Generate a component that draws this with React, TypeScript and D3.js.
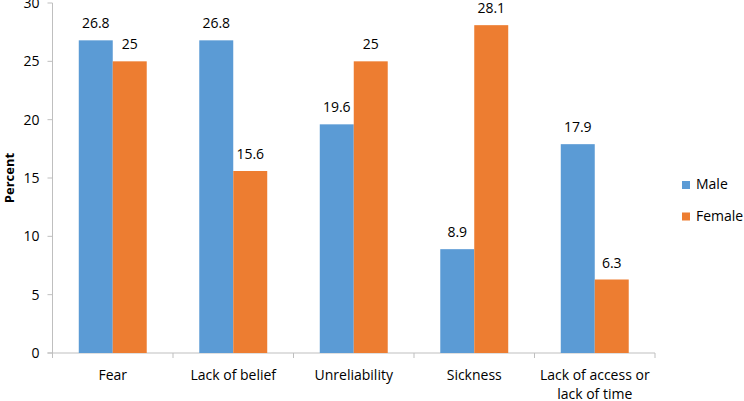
import * as d3 from 'd3';
import React from 'react';

const categories = ['Fear', 'Lack of belief', 'Unreliability', 'Sickness', 'Lack of access or lack of time'];
const categoryLines = [['Fear'], ['Lack of belief'], ['Unreliability'], ['Sickness'], ['Lack of access or', 'lack of time']];
const seriesNames = ['Male', 'Female'];
const maleValues = [26.8, 26.8, 19.6, 8.9, 17.9];
const femaleValues = [25, 15.6, 25, 28.1, 6.3];
const yTicks = [0, 5, 10, 15, 20, 25, 30];
const colors = ['#5B9BD5', '#ED7D31'];

const W = 744;
const H = 401;
const FONT = '"Open Sans", sans-serif';

export default function App() {
  const ref = React.useRef<SVGSVGElement>(null);

  React.useEffect(() => {
    if (!ref.current) return;
    const svg = d3.select(ref.current);
    svg.selectAll('*').remove();

    const margin = { top: 3, right: 89, bottom: 48, left: 52.5 };
    const innerW = W - margin.left - margin.right;
    const innerH = H - margin.top - margin.bottom;
    const g = svg.append('g').attr('transform', `translate(${margin.left},${margin.top})`);

    const x = d3.scaleBand<string>().domain(categories).range([0, innerW]).paddingInner(0.436).paddingOuter(0.218);
    const x1 = d3.scaleBand<string>().domain(seriesNames).range([0, x.bandwidth()]);
    const y = d3.scaleLinear().domain([0, 30]).range([innerH, 0]);

    const axisColor = '#BFBFBF';

    // y axis
    g.append('line').attr('x1', 0).attr('x2', 0).attr('y1', 0).attr('y2', innerH).attr('stroke', axisColor);
    yTicks.forEach((t) => {
      g.append('line').attr('x1', -5).attr('x2', 0).attr('y1', y(t)).attr('y2', y(t)).attr('stroke', axisColor);
      g.append('text')
        .attr('x', -13)
        .attr('y', y(t))
        .attr('dy', '0.35em')
        .attr('text-anchor', 'end')
        .attr('font-family', FONT)
        .attr('font-size', 14)
        .attr('fill', '#000')
        .text(t);
    });

    // x axis
    g.append('line').attr('x1', -5).attr('x2', innerW).attr('y1', innerH).attr('y2', innerH).attr('stroke', axisColor);
    const step = x.step();
    const edge0 = x(categories[0])! - x.paddingOuter() * step;
    d3.range(categories.length + 1).forEach((i) => {
      const xx = edge0 + i * step;
      g.append('line').attr('x1', xx).attr('x2', xx).attr('y1', innerH).attr('y2', innerH + 5).attr('stroke', axisColor);
    });

    categories.forEach((c, i) => {
      const cx = x(c)! + x.bandwidth() / 2;
      const t = g
        .append('text')
        .attr('text-anchor', 'middle')
        .attr('font-family', FONT)
        .attr('font-size', 14)
        .attr('fill', '#000');
      categoryLines[i].forEach((line, j) => {
        t.append('tspan').attr('x', cx).attr('y', innerH + 27 + j * 19).text(line);
      });
    });

    // bars
    const series = [maleValues, femaleValues];
    series.forEach((vals, s) => {
      categories.forEach((c, i) => {
        const bx = x(c)! + x1(seriesNames[s])!;
        g.append('rect')
          .attr('x', bx)
          .attr('y', y(vals[i]))
          .attr('width', x1.bandwidth())
          .attr('height', innerH - y(vals[i]))
          .attr('fill', colors[s]);
        g.append('text')
          .attr('x', bx + x1.bandwidth() / 2)
          .attr('y', y(vals[i]) - 12)
          .attr('text-anchor', 'middle')
          .attr('font-family', FONT)
          .attr('font-size', 14)
          .attr('fill', '#000')
          .text(vals[i]);
      });
    });

    // y title
    svg
      .append('text')
      .attr('transform', `translate(14,${margin.top + innerH / 2}) rotate(-90)`)
      .attr('text-anchor', 'middle')
      .attr('font-family', FONT)
      .attr('font-size', 13)
      .attr('font-weight', 'bold')
      .attr('fill', '#000')
      .text('Percent');

    // legend
    const legend = svg.append('g').attr('transform', 'translate(682,181)');
    seriesNames.forEach((n, i) => {
      const lg = legend.append('g').attr('transform', `translate(0,${i * 31.5})`);
      lg.append('rect').attr('width', 8).attr('height', 8).attr('fill', colors[i]);
      lg.append('text')
        .attr('x', 14)
        .attr('y', 8)
        .attr('font-family', FONT)
        .attr('font-size', 14)
        .attr('fill', '#000')
        .text(n);
    });
  }, []);

  return <svg ref={ref} width={W} height={H} style={{ display: 'block', position: 'absolute', left: 0, top: 0, background: '#fff' }} />;
}
